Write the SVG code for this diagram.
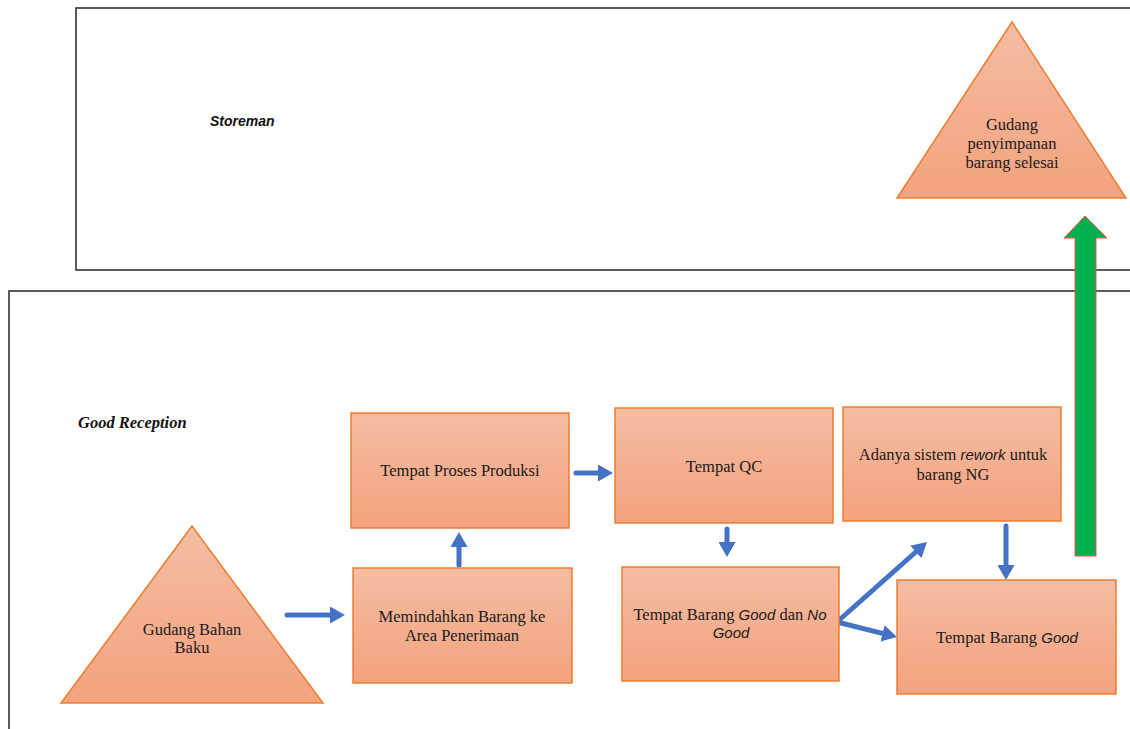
<svg xmlns="http://www.w3.org/2000/svg" width="1130" height="729" viewBox="0 0 1130 729">
<defs>
<linearGradient id="peach" x1="0" y1="0" x2="0" y2="1">
<stop offset="0" stop-color="#F5BDA3"/>
<stop offset="1" stop-color="#F3A27D"/>
</linearGradient>
<marker id="head" markerUnits="userSpaceOnUse" markerWidth="16" markerHeight="17" refX="3" refY="8.5" orient="auto" viewBox="0 0 16 17">
<path d="M0,0 L15,8.5 L0,17 z" fill="#4472C4"/>
</marker>
<style>
.frame{fill:none;stroke:#333;stroke-width:1.6}
.box{fill:url(#peach);stroke:#ED7D31;stroke-width:1.5}
.t{font-family:"Liberation Serif","Times New Roman",serif;font-size:16.5px;fill:#1a1a1a;text-anchor:middle}
.i{font-family:"Liberation Sans",Arial,sans-serif;font-style:italic;font-size:15px}
.lane{font-family:"Liberation Serif","Times New Roman",serif;font-weight:bold;font-style:italic;font-size:16.5px;fill:#111}
.lane2{font-family:"Liberation Sans",Arial,sans-serif;font-weight:bold;font-style:italic;font-size:14px;fill:#111}
.arr{stroke:#4472C4;stroke-width:5;fill:none;stroke-linecap:round;marker-end:url(#head)}
</style>
</defs>

<g id="lanes">
<rect class="frame" x="76" y="8" width="1100" height="262"/>
<rect class="frame" x="9" y="291" width="1200" height="500"/>
<text class="lane2" x="210" y="126">Storeman</text>
<text class="lane" x="78" y="428">Good Reception</text>
</g>

<g id="connectors">
<line class="arr" x1="287" y1="615" x2="333" y2="615"/>
<line class="arr" x1="459" y1="565" x2="459" y2="544"/>
<line class="arr" x1="576" y1="473" x2="601" y2="473"/>
<line class="arr" x1="727" y1="529" x2="727" y2="545"/>
<line class="arr" x1="1006" y1="526" x2="1006" y2="568"/>
<line class="arr" x1="837" y1="622" x2="918" y2="550"/>
<line class="arr" x1="837" y1="622" x2="885.4" y2="634.1"/>
<polygon points="1085,216 1107,238 1096,238 1096,556 1075,556 1075,238 1064,238" fill="#00B050" stroke="#FF5050" stroke-width="1"/>
</g>

<g id="gudang-selesai">
<polygon class="box" points="1012,22 897,198 1126,198"/>
<text class="t" x="1012" y="130">Gudang</text>
<text class="t" x="1012" y="149">penyimpanan</text>
<text class="t" x="1012" y="168">barang selesai</text>
</g>

<g id="gudang-bahan">
<polygon class="box" points="192,526 61,703 323,703"/>
<text class="t" x="192" y="635">Gudang Bahan</text>
<text class="t" x="192" y="653">Baku</text>
</g>

<g id="proses-produksi">
<rect class="box" x="351" y="413" width="218" height="115"/>
<text class="t" x="460" y="476">Tempat Proses Produksi</text>
</g>

<g id="memindahkan">
<rect class="box" x="353" y="568" width="219" height="115"/>
<text class="t" x="462" y="622">Memindahkan Barang ke</text>
<text class="t" x="462" y="641">Area Penerimaan</text>
</g>

<g id="qc">
<rect class="box" x="615" y="408" width="218" height="115"/>
<text class="t" x="724" y="472">Tempat QC</text>
</g>

<g id="good-nogood">
<rect class="box" x="622" y="567" width="217" height="114"/>
<text class="t" x="730" y="620">Tempat Barang <tspan class="i">Good</tspan> dan <tspan class="i">No</tspan></text>
<text class="t" x="731" y="638"><tspan class="i">Good</tspan></text>
</g>

<g id="rework">
<rect class="box" x="843" y="407" width="218" height="114"/>
<text class="t" x="953" y="460">Adanya sistem <tspan class="i">rework</tspan> untuk</text>
<text class="t" x="953" y="480">barang NG</text>
</g>

<g id="barang-good">
<rect class="box" x="897" y="580" width="219" height="114"/>
<text class="t" x="1007" y="643">Tempat Barang <tspan class="i">Good</tspan></text>
</g>
</svg>
